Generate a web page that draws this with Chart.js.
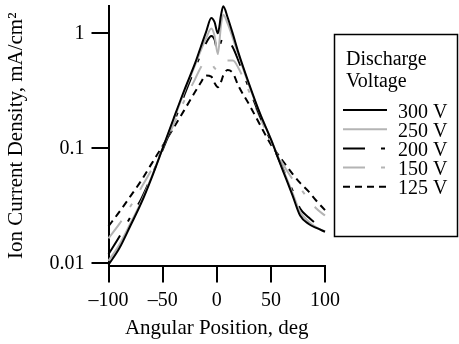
<!DOCTYPE html>
<html>
<head>
<meta charset="utf-8">
<title>Ion Current Density</title>
<script src="https://cdn.jsdelivr.net/npm/chart.js@4"></script>
<style>
  html, body { margin: 0; padding: 0; background: #fff; }
  canvas { display: block; }
</style>
</head>
<body>
<canvas id="ionChart" width="459" height="344"></canvas>
<script>
var angles = [-100, -90, -80, -70, -60, -50, -40, -30, -20, -15, -10, -5, -2, 1, 4, 6, 10, 15, 20, 30, 40, 50, 60, 70, 77, 85, 92, 100];

// ion current density, mA/cm2, one list per discharge voltage
var v300 = [0.0097, 0.0135, 0.021, 0.033, 0.056, 0.1, 0.18, 0.32, 0.55, 0.75, 1.02, 1.36, 1.25, 1.0, 1.45, 1.72, 1.38, 0.98, 0.68, 0.36, 0.2, 0.12, 0.068, 0.039, 0.026, 0.022, 0.0203, 0.0188];
var v250 = [0.0105, 0.0145, 0.022, 0.034, 0.057, 0.1, 0.175, 0.31, 0.53, 0.7, 0.9, 1.1, 0.95, 0.66, 1.2, 1.45, 1.22, 0.9, 0.65, 0.35, 0.2, 0.12, 0.07, 0.041, 0.028, 0.023, 0.0205, 0.019];
var v200 = [0.012, 0.017, 0.025, 0.036, 0.058, 0.097, 0.165, 0.29, 0.5, 0.65, 0.82, 0.95, 0.88, 0.68, 0.85, 0.93, 0.88, 0.75, 0.58, 0.33, 0.19, 0.115, 0.07, 0.043, 0.03, 0.025, 0.022, 0.0195];
var v150 = [0.0165, 0.022, 0.031, 0.045, 0.066, 0.1, 0.16, 0.26, 0.4, 0.5, 0.57, 0.55, 0.5, 0.48, 0.52, 0.55, 0.58, 0.58, 0.5, 0.31, 0.185, 0.115, 0.076, 0.054, 0.045, 0.036, 0.03, 0.026];
var v125 = [0.021, 0.028, 0.038, 0.052, 0.074, 0.105, 0.15, 0.215, 0.31, 0.37, 0.43, 0.42, 0.37, 0.34, 0.38, 0.43, 0.48, 0.45, 0.35, 0.24, 0.16, 0.108, 0.08, 0.06, 0.05, 0.042, 0.035, 0.029];

var seriesLabels = ['300 V', '250 V', '200 V', '150 V', '125 V'];
var xTicks = [-100, -50, 0, 50, 100];
var yTicks = [0.01, 0.1, 1];

var serif = '"Liberation Serif", "Times New Roman", serif';
Chart.defaults.font.family = serif;
Chart.defaults.color = '#000';

function pts(vals) {
  return angles.map(function (a, i) { return { x: a, y: vals[i] }; });
}

function line(label, vals, color, dash) {
  return {
    label: label,
    data: pts(vals),
    borderColor: color,
    borderWidth: 2,
    borderDash: dash,
    pointRadius: 0,
    cubicInterpolationMode: 'monotone',
    fill: false,
    clip: false
  };
}

var gray = '#b4b4b4';
var longDash = [22, 16, 4, 16];
var shortDash = [7, 5];

// boxed legend on the right, like the original figure
var boxLegend = {
  id: 'boxLegend',
  afterDraw: function (chart) {
    var ctx = chart.ctx;
    ctx.save();
    ctx.strokeStyle = '#000';
    ctx.lineWidth = 1.5;
    ctx.setLineDash([]);
    ctx.strokeRect(334.5, 34.5, 123, 202);
    ctx.fillStyle = '#000';
    ctx.font = '20px ' + serif;
    ctx.textBaseline = 'alphabetic';
    ctx.fillText('Discharge', 346, 65);
    ctx.fillText('Voltage', 346, 86.5);
    chart.data.datasets.forEach(function (ds, i) {
      var y = 110 + i * 19.2;
      ctx.strokeStyle = ds.borderColor;
      ctx.lineWidth = ds.borderWidth;
      ctx.setLineDash(ds.borderDash || []);
      ctx.beginPath();
      ctx.moveTo(343, y);
      ctx.lineTo(387, y);
      ctx.stroke();
      ctx.setLineDash([]);
      ctx.fillText(ds.label, 398, y + 7.5);
    });
    ctx.restore();
  }
};

var ctx = document.getElementById('ionChart').getContext('2d');
var ionChart = new Chart(ctx, {
  type: 'line',
  data: {
    datasets: [
      line(seriesLabels[0], v300, '#000', []),
      line(seriesLabels[1], v250, gray, []),
      line(seriesLabels[2], v200, '#000', longDash),
      line(seriesLabels[3], v150, gray, longDash),
      line(seriesLabels[4], v125, '#000', shortDash)
    ]
  },
  options: {
    responsive: false,
    animation: false,
    layout: { padding: { top: 6, right: 134, left: 0, bottom: 0 } },
    plugins: {
      legend: { display: false },
      tooltip: { enabled: false }
    },
    scales: {
      x: {
        type: 'linear',
        min: -100,
        max: 100,
        afterBuildTicks: function (scale) {
          scale.ticks = xTicks.map(function (v) { return { value: v }; });
        },
        afterFit: function (scale) {
          scale.height = 78.5;
          scale.paddingLeft = 0;
          scale.paddingRight = 0;
        },
        border: { color: '#000', width: 2 },
        grid: { drawOnChartArea: false, drawTicks: true, tickLength: 17, color: '#000', lineWidth: 2 },
        ticks: {
          padding: 6,
          maxRotation: 0,
          font: { size: 20 },
          color: '#000',
          callback: function (v) { return v < 0 ? '\u2013' + Math.abs(v) : String(v); }
        },
        title: {
          display: true,
          text: 'Angular Position, deg',
          font: { size: 21 },
          color: '#000',
          padding: { top: 0, bottom: 3 }
        }
      },
      y: {
        type: 'logarithmic',
        min: 0.00957,
        max: 1.73,
        afterBuildTicks: function (scale) {
          scale.ticks = yTicks.map(function (v) { return { value: v }; });
        },
        afterFit: function (scale) {
          scale.width = 108.5;
          scale.paddingTop = 0;
          scale.paddingBottom = 0;
        },
        border: { color: '#000', width: 2 },
        grid: { drawOnChartArea: false, drawTicks: true, tickLength: 17, color: '#000', lineWidth: 2 },
        ticks: {
          padding: 7,
          font: { size: 20 },
          color: '#000',
          callback: function (v) { return String(v); }
        },
        title: {
          display: true,
          text: 'Ion Current Density, mA/cm\u00b2',
          font: { size: 21 },
          color: '#000',
          padding: { top: 4, bottom: 0 }
        }
      }
    }
  },
  plugins: [boxLegend]
});
</script>
</body>
</html>
